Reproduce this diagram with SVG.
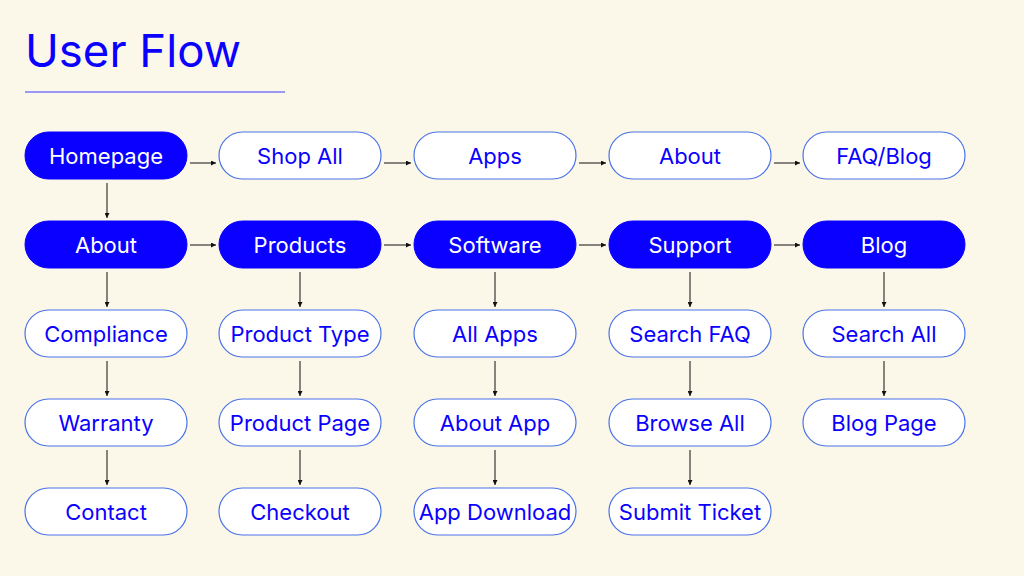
<svg xmlns="http://www.w3.org/2000/svg" width="1024" height="576" viewBox="0 0 1024 576">
<defs>
<style>
.bg{fill:#fbf7e9}
.f rect{fill:#0a00ff;stroke:#0a00ff;stroke-width:1}
.o rect{fill:#ffffff;stroke:#4a73e8;stroke-width:1.2}
text{font-family:Inter,"Liberation Sans",sans-serif;font-size:22px;text-anchor:middle;dominant-baseline:central}
.f text{fill:#ffffff}
.o text{fill:#0a00ff}
.c line{stroke:#111;stroke-width:1;marker-end:url(#ah)}
</style>
<marker id="ah" viewBox="0 0 6 6" refX="6" refY="3" markerWidth="5" markerHeight="5" orient="auto" markerUnits="userSpaceOnUse">
<path d="M0,0 L6,3 L0,6 z" fill="#111"/>
</marker>
</defs>
<rect class="bg" x="0" y="0" width="1024" height="576"/>
<text x="25" y="50" style="font-size:45.5px;text-anchor:start;fill:#0a00ff">User Flow</text>
<line x1="25" y1="92" x2="285" y2="92" stroke="#3a3aff" stroke-width="1.2"/>
<g class="c">
<line x1="190" y1="163" x2="216" y2="163"/>
<line x1="384" y1="163" x2="411" y2="163"/>
<line x1="579" y1="163" x2="606" y2="163"/>
<line x1="774" y1="163" x2="800" y2="163"/>
<line x1="190" y1="245" x2="216" y2="245"/>
<line x1="384" y1="245" x2="411" y2="245"/>
<line x1="579" y1="245" x2="606" y2="245"/>
<line x1="774" y1="245" x2="800" y2="245"/>
<line x1="107" y1="183" x2="107" y2="218"/>
<line x1="107" y1="272" x2="107" y2="307"/>
<line x1="107" y1="361" x2="107" y2="396"/>
<line x1="107" y1="450" x2="107" y2="485"/>
<line x1="300" y1="272" x2="300" y2="307"/>
<line x1="300" y1="361" x2="300" y2="396"/>
<line x1="300" y1="450" x2="300" y2="485"/>
<line x1="495" y1="272" x2="495" y2="307"/>
<line x1="495" y1="361" x2="495" y2="396"/>
<line x1="495" y1="450" x2="495" y2="485"/>
<line x1="690" y1="272" x2="690" y2="307"/>
<line x1="690" y1="361" x2="690" y2="396"/>
<line x1="690" y1="450" x2="690" y2="485"/>
<line x1="884" y1="272" x2="884" y2="307"/>
<line x1="884" y1="361" x2="884" y2="396"/>
</g>
<g id="homepage" class="f"><rect x="25" y="132" width="162" height="47" rx="23.5"/><text x="106" y="155.5">Homepage</text></g>
<g id="shopall" class="o"><rect x="219" y="132" width="162" height="47" rx="23.5"/><text x="300" y="155.5">Shop All</text></g>
<g id="apps" class="o"><rect x="414" y="132" width="162" height="47" rx="23.5"/><text x="495" y="155.5">Apps</text></g>
<g id="about1" class="o"><rect x="609" y="132" width="162" height="47" rx="23.5"/><text x="690" y="155.5">About</text></g>
<g id="faqblog" class="o"><rect x="803" y="132" width="162" height="47" rx="23.5"/><text x="884" y="155.5">FAQ/Blog</text></g>
<g id="about2" class="f"><rect x="25" y="221" width="162" height="47" rx="23.5"/><text x="106" y="244.5">About</text></g>
<g id="products" class="f"><rect x="219" y="221" width="162" height="47" rx="23.5"/><text x="300" y="244.5">Products</text></g>
<g id="software" class="f"><rect x="414" y="221" width="162" height="47" rx="23.5"/><text x="495" y="244.5">Software</text></g>
<g id="support" class="f"><rect x="609" y="221" width="162" height="47" rx="23.5"/><text x="690" y="244.5">Support</text></g>
<g id="blog" class="f"><rect x="803" y="221" width="162" height="47" rx="23.5"/><text x="884" y="244.5">Blog</text></g>
<g id="compliance" class="o"><rect x="25" y="310" width="162" height="47" rx="23.5"/><text x="106" y="333.5">Compliance</text></g>
<g id="producttype" class="o"><rect x="219" y="310" width="162" height="47" rx="23.5"/><text x="300" y="333.5">Product Type</text></g>
<g id="allapps" class="o"><rect x="414" y="310" width="162" height="47" rx="23.5"/><text x="495" y="333.5">All Apps</text></g>
<g id="searchfaq" class="o"><rect x="609" y="310" width="162" height="47" rx="23.5"/><text x="690" y="333.5">Search FAQ</text></g>
<g id="searchall" class="o"><rect x="803" y="310" width="162" height="47" rx="23.5"/><text x="884" y="333.5">Search All</text></g>
<g id="warranty" class="o"><rect x="25" y="399" width="162" height="47" rx="23.5"/><text x="106" y="422.5">Warranty</text></g>
<g id="productpage" class="o"><rect x="219" y="399" width="162" height="47" rx="23.5"/><text x="300" y="422.5">Product Page</text></g>
<g id="aboutapp" class="o"><rect x="414" y="399" width="162" height="47" rx="23.5"/><text x="495" y="422.5">About App</text></g>
<g id="browseall" class="o"><rect x="609" y="399" width="162" height="47" rx="23.5"/><text x="690" y="422.5">Browse All</text></g>
<g id="blogpage" class="o"><rect x="803" y="399" width="162" height="47" rx="23.5"/><text x="884" y="422.5">Blog Page</text></g>
<g id="contact" class="o"><rect x="25" y="488" width="162" height="47" rx="23.5"/><text x="106" y="511.5">Contact</text></g>
<g id="checkout" class="o"><rect x="219" y="488" width="162" height="47" rx="23.5"/><text x="300" y="511.5">Checkout</text></g>
<g id="appdownload" class="o"><rect x="414" y="488" width="162" height="47" rx="23.5"/><text x="495" y="511.5">App Download</text></g>
<g id="submitticket" class="o"><rect x="609" y="488" width="162" height="47" rx="23.5"/><text x="690" y="511.5">Submit Ticket</text></g>
</svg>
